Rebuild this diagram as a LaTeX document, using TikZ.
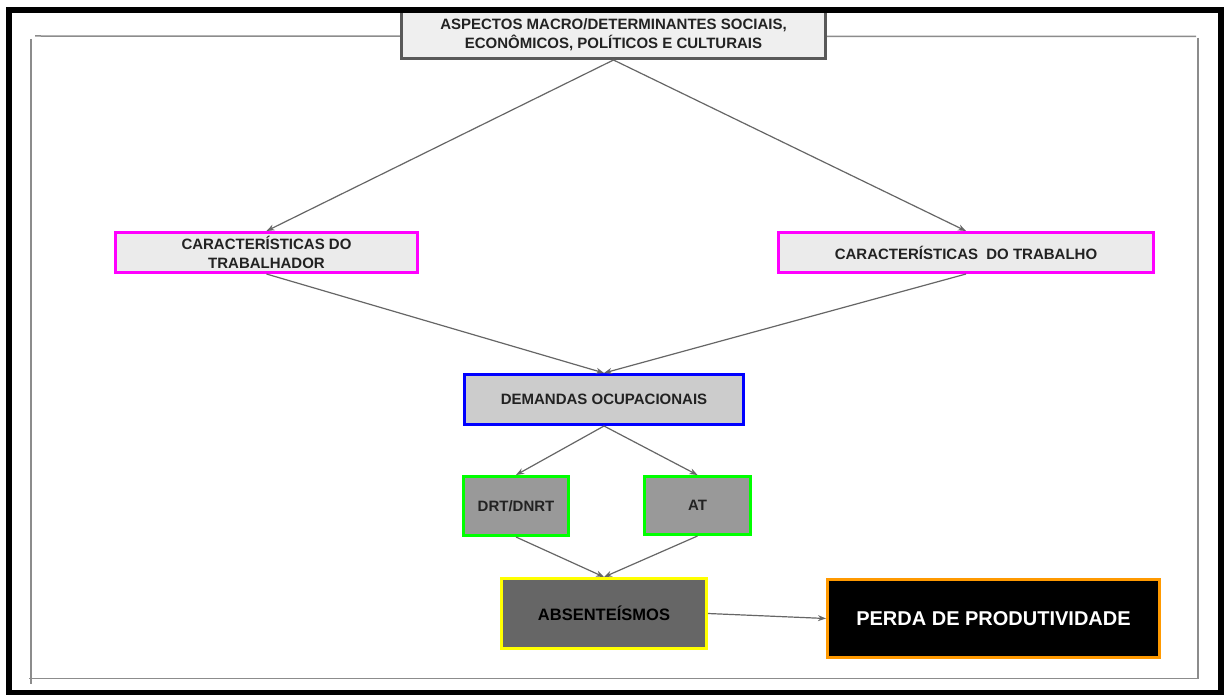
\documentclass[tikz,border=0pt]{standalone}
\usepackage{fontspec}
\setmainfont{Liberation Sans}
\usetikzlibrary{arrows.meta}

\definecolor{framegray}{HTML}{8C8C8C}
\definecolor{linkgray}{HTML}{666666}
\definecolor{topfill}{HTML}{EFEFEF}
\definecolor{topline}{HTML}{595959}
\definecolor{lightfill}{HTML}{EBEBEB}
\definecolor{midfill}{HTML}{CCCCCC}
\definecolor{darkfill}{HTML}{999999}
\definecolor{deepfill}{HTML}{666666}
\definecolor{magentaline}{HTML}{FF00FF}
\definecolor{blueline}{HTML}{0000FF}
\definecolor{greenline}{HTML}{00FF00}
\definecolor{yellowline}{HTML}{FFFF00}
\definecolor{orangeline}{HTML}{FF9900}
\definecolor{textdark}{HTML}{222222}

\begin{document}
\begin{tikzpicture}[x=1pt,y=-1pt,
  box/.style={draw, line width=3pt, align=center, inner sep=0pt,
    text=textdark, font=\bfseries\fontsize{15}{19}\selectfont},
  link/.style={draw=linkgray, line width=1.2pt,
    -{Stealth[length=8pt,width=6pt]}}]

\useasboundingbox (0,0) rectangle (1226,695);
\fill[white] (0,0) rectangle (1226,695);

% inner thin frame
\draw[framegray, line width=1.5pt] (35,36) -- (1196,36.5);
\draw[framegray, line width=1.5pt] (1198,38) -- (1198,679);
\draw[framegray, line width=1.5pt] (29,678.5) -- (1198,678.5);
\draw[framegray, line width=1.5pt] (31,39) -- (31,684);

% boxes
\node[box, fill=topfill, draw=topline, minimum width=424pt, minimum height=48pt]
  (macro) at (613.5,34.5)
  {ASPECTOS MACRO/DETERMINANTES SOCIAIS,\\ECONÔMICOS, POLÍTICOS E CULTURAIS};

\node[box, fill=lightfill, draw=magentaline, minimum width=302pt, minimum height=40pt]
  (trabalhador) at (266.5,252.5) {CARACTERÍSTICAS DO\\TRABALHADOR};

\node[box, fill=lightfill, draw=magentaline, minimum width=375pt, minimum height=40pt]
  (trabalho) at (966,252.5) {CARACTERÍSTICAS\ \ DO TRABALHO};

\node[box, fill=midfill, draw=blueline, minimum width=279pt, minimum height=50pt]
  (demandas) at (604,399.5) {DEMANDAS OCUPACIONAIS};

\node[box, fill=darkfill, draw=greenline, minimum width=105pt, minimum height=59pt]
  (drt) at (516,506) {DRT/DNRT};

\node[box, fill=darkfill, draw=greenline, minimum width=106pt, minimum height=58pt]
  (at) at (697.5,505.5) {AT};

\node[box, fill=deepfill, draw=yellowline, minimum width=205pt, minimum height=70pt,
  font=\bfseries\fontsize{16.5}{20}\selectfont, text=black]
  (absent) at (604,613.5) {ABSENTEÍSMOS};

\node[box, fill=black, draw=orangeline, minimum width=332pt, minimum height=78pt,
  font=\bfseries\fontsize{20}{24}\selectfont, text=white]
  (perda) at (993.5,618.5) {PERDA DE PRODUTIVIDADE};

% connectors
\draw[link] (macro.south) -- (trabalhador.north);
\draw[link] (macro.south) -- (trabalho.north);
\draw[link] (trabalhador.south) -- (demandas.north);
\draw[link] (trabalho.south) -- (demandas.north);
\draw[link] (demandas.south) -- (drt.north);
\draw[link] (demandas.south) -- (at.north);
\draw[link] (drt.south) -- (absent.north);
\draw[link] (at.south) -- (absent.north);
\draw[link] (absent.east) -- (perda.west);

% outer heavy frame
\draw[black, line width=6pt] (8.5,10) rectangle (1221,692.5);
\end{tikzpicture}
\end{document}
